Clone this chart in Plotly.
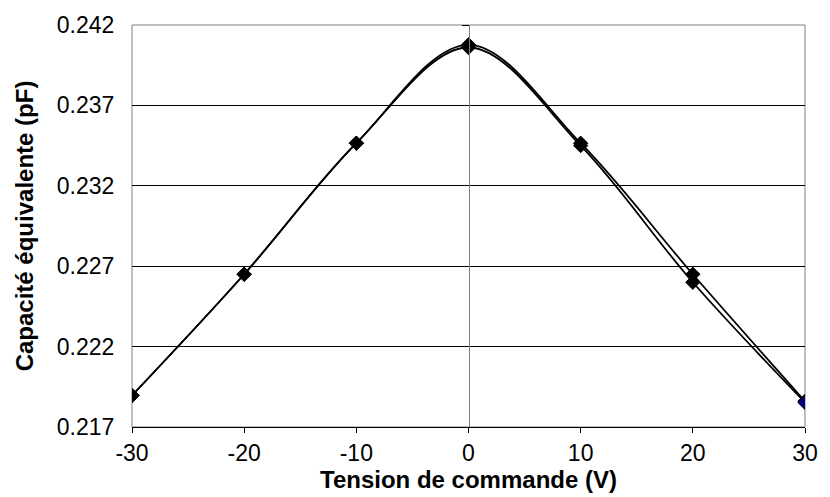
import plotly.graph_objects as go

# Control voltage (V) and equivalent capacitance (pF), two measurement runs
tension_a = [-30, -20, -10, 0, 10, 20, 30]
capa_a = [0.21896, 0.2265, 0.23465, 0.24077, 0.23465, 0.2265, 0.2186]

tension_b = [-30, -20, -10, 0, 10, 20, 30]
capa_b = [0.21896, 0.2265, 0.23465, 0.2406, 0.2345, 0.2260, 0.21853]

x_ticks = [-30, -20, -10, 0, 10, 20, 30]
y_ticks = [0.217, 0.222, 0.227, 0.232, 0.237, 0.242]

FONT = "Liberation Sans, Arial, sans-serif"
TICK_SIZE = 23
TITLE_SIZE = 24

fig = go.Figure()

fig.add_trace(go.Scatter(
    x=tension_a, y=capa_a, mode="lines+markers",
    line=dict(color="black", width=1.8, shape="spline", smoothing=1),
    marker=dict(symbol="diamond", size=11, color="black",
                line=dict(color="black", width=1)),
    showlegend=False,
))
fig.add_trace(go.Scatter(
    x=tension_b, y=capa_b, mode="lines+markers",
    line=dict(color="black", width=1.8, shape="spline", smoothing=1),
    marker=dict(symbol="diamond", size=11,
                color=["black"] * (len(tension_b) - 1) + ["#000080"],
                line=dict(color="black", width=1)),
    showlegend=False,
))

# vertical axis drawn through x = 0 (ticks only, labels stay on the left)
fig.add_trace(go.Scatter(x=[0], y=[0.23], yaxis="y2", mode="markers",
                         marker=dict(opacity=0), showlegend=False,
                         hoverinfo="skip"))

fig.update_layout(
    width=830, height=497,
    margin=dict(l=132, r=16, t=19, b=70),
    paper_bgcolor="white", plot_bgcolor="white",
    font=dict(family=FONT, size=TICK_SIZE, color="black"),
    xaxis=dict(
        range=[-30, 30], tickvals=x_ticks, ticktext=[str(v) for v in x_ticks],
        showgrid=False, zeroline=False,
        showline=True, linecolor="black", linewidth=1,
        ticks="outside", ticklen=5, tickcolor="black",
        title=dict(text="<b>Tension de commande (V)</b>", standoff=3,
                   font=dict(size=TITLE_SIZE)),
        tickfont=dict(size=TICK_SIZE),
    ),
    yaxis=dict(
        range=[0.217, 0.242], tickvals=y_ticks,
        ticktext=[f"{v:.3f}" for v in y_ticks],
        showgrid=True, gridcolor="black", gridwidth=1,
        zeroline=False, showline=False,
        ticks="outside", ticklen=12, tickcolor="rgba(0,0,0,0)",
        title=dict(text="<b>Capacité équivalente (pF)</b>", standoff=16,
                   font=dict(size=TITLE_SIZE)),
        tickfont=dict(size=TICK_SIZE),
    ),
    yaxis2=dict(
        overlaying="y", anchor="free", position=0.5,
        range=[0.217, 0.242], tickvals=y_ticks, showticklabels=False,
        showgrid=False, zeroline=False,
        showline=True, linecolor="#808080", linewidth=1,
        ticks="outside", ticklen=7, tickcolor="black",
    ),
    shapes=[dict(type="rect", xref="paper", yref="paper", x0=0, x1=1,
                 y0=0, y1=1, line=dict(color="#808080", width=1),
                 layer="below")],
)

fig.write_html("out.html")
